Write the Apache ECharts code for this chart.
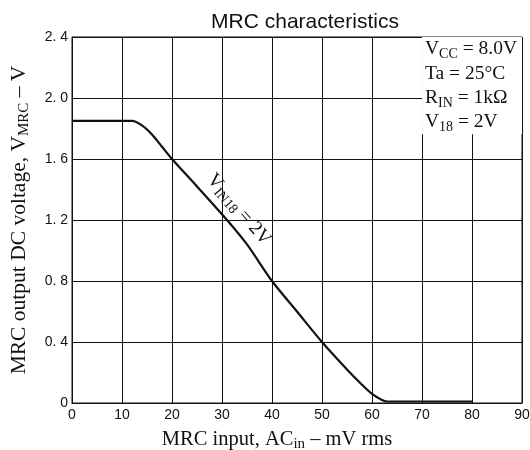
<!DOCTYPE html>
<html><head><meta charset="utf-8">
<script src="https://cdn.jsdelivr.net/npm/echarts@6/dist/echarts.min.js"></script>
<style>html,body{margin:0;padding:0;background:#fff}#c{width:530px;height:450px}</style>
</head><body><div id="c"></div>
<script>
var xTicks = [0,10,20,30,40,50,60,70,80,90];
var yTicks = [0,0.4,0.8,1.2,1.6,2.0,2.4];
var inputMV = [0,12,14,16,18,20,25,31,35,40,45,50,55,58,60,62,63,65,80];
var outputV = [1.85,1.85,1.82,1.76,1.68,1.6,1.42,1.2,1.04,0.8,0.6,0.4,0.22,0.12,0.06,0.02,0.01,0.01,0.01];
var titleText = 'MRC characteristics';
var eq = ' = ';
var conditions = ['{v|V}{s|CC}{v|'+eq+'8.0V}','{v|Ta'+eq+'25°C}','{v|R}{s|IN}{v|'+eq+'1kΩ}','{v|V}{s|18}{v|'+eq+'2V}'];

var chart = echarts.init(document.getElementById('c'));
var serif = '"Liberation Serif","DejaVu Serif",serif';
var sans = '"Liberation Sans",Arial,sans-serif';
chart.setOption({
  animation:false,
  title:[{
    text:titleText, left:300, textAlign:'center', top:7,
    textStyle:{fontFamily:sans,fontSize:21,fontWeight:'normal',color:'#111'}
  },{
    text:conditions.join('\n'), right:8, top:37,
    backgroundColor:'#fff', padding:[0,5,0,3],
    textStyle:{lineHeight:24.3, fontWeight:'normal', rich:{
      v:{fontFamily:serif,fontSize:19.5,fontWeight:'normal',color:'#111',lineHeight:24.3},
      s:{fontFamily:serif,fontSize:14,fontWeight:'normal',color:'#111',verticalAlign:'bottom',padding:[9,0,0,0],lineHeight:24.3}
    }}
  }],
  grid:{left:72,right:8,top:37,bottom:47,show:true,borderColor:'#111',borderWidth:1,outerBoundsMode:'none',containLabel:false},
  xAxis:{type:'value',min:0,max:90,interval:10,
    name:'{a|MRC input, AC}{s|in}{a| – mV rms}', nameLocation:'middle', nameGap:24,
    nameTextStyle:{padding:[0,40,0,0],rich:{a:{fontFamily:serif,fontSize:20.5,color:'#111'},s:{fontFamily:serif,fontSize:15,color:'#111',verticalAlign:'bottom',padding:[10,0,0,0]}}},
    axisLine:{lineStyle:{color:'#111'}},axisTick:{show:false},
    axisLabel:{fontFamily:sans,fontSize:14,color:'#111',margin:5,formatter:function(v){return String(v);}},
    splitLine:{lineStyle:{color:'#111',width:1}}},
  yAxis:{type:'value',min:0,max:2.4,interval:0.4,
    name:'{a|MRC output DC voltage, V}{s|MRC}{a| – V}', nameLocation:'middle', nameGap:40,
    nameTextStyle:{rich:{a:{fontFamily:serif,fontSize:21.5,color:'#111'},s:{fontFamily:serif,fontSize:15,color:'#111',verticalAlign:'bottom',padding:[10,0,0,0]}}},
    axisLine:{show:true,lineStyle:{color:'#111'}},axisTick:{show:false},
    axisLabel:{fontFamily:sans,fontSize:14,color:'#111',margin:4,formatter:function(v){return v===0?'0':v.toFixed(1).replace('.','. ');}},
    splitLine:{lineStyle:{color:'#111',width:1}}},
  series:[{type:'line',smooth:0.3,symbol:'none',
    data:inputMV.map(function(x,i){return [x,outputV[i]];}),
    lineStyle:{color:'#111',width:2.2},z:5}],
  graphic:[{type:'text',x:219,y:169,rotation:-0.86,z:10,
    style:{text:'{v|V}{s|IN18}{v|'+eq+'2V}',rich:{
      v:{fontFamily:serif,fontSize:19.5,fill:'#111'},
      s:{fontFamily:serif,fontSize:14,fill:'#111',verticalAlign:'bottom',padding:[9,0,0,0]}}}}]
});
</script></body></html>
